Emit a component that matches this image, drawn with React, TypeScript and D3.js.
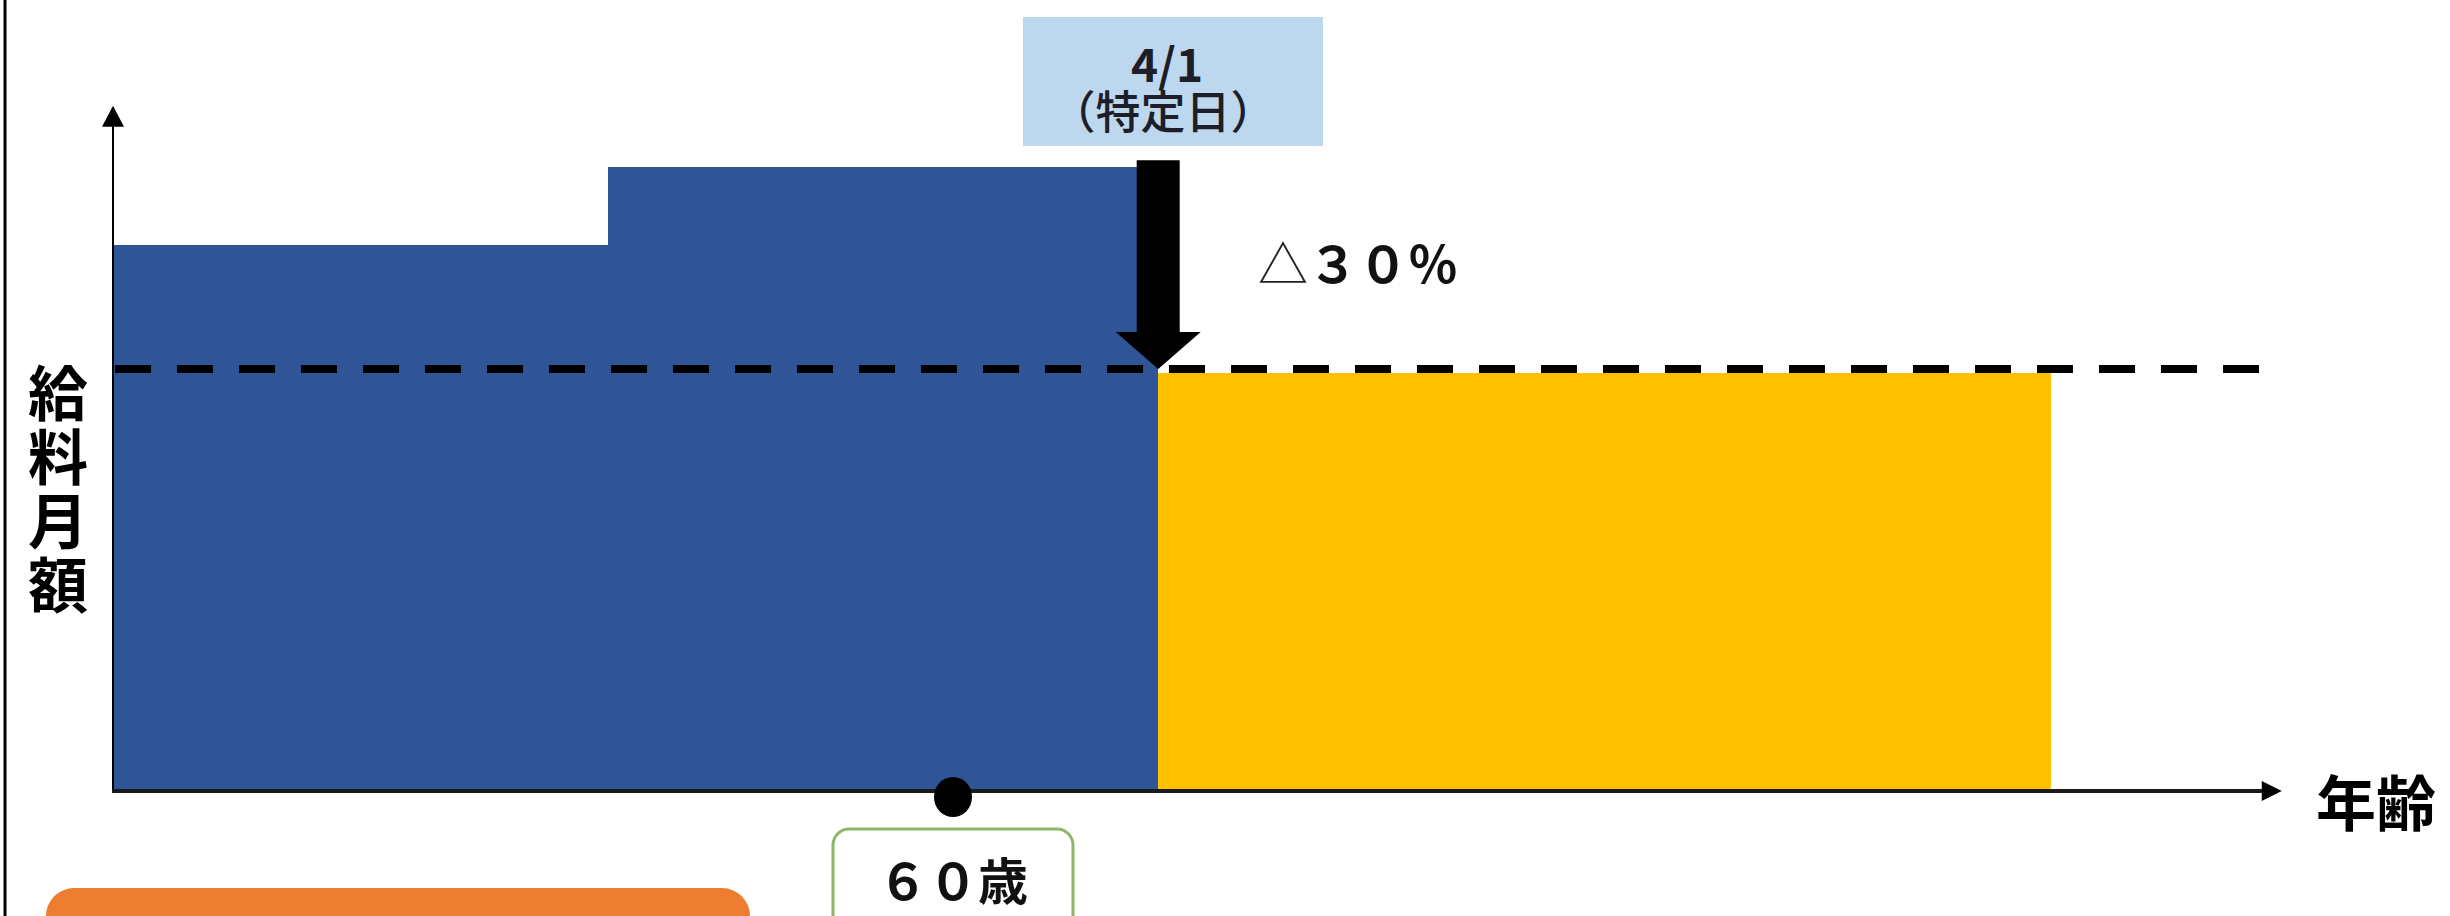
import React from "react";
import * as d3 from "d3";

// ---- data ----
const segStartAge = [55, 57.95, 61.22];
const segEndAge = [57.95, 61.22, 66.53];
const segSalary = [87.5, 100, 67];
const segColor = ["#2F5597", "#2F5597", "#FFC000"];

const axisStartAge = 55;
const axisEndAge = 67.9;
const axisTopValue = 109.8;
const refLevel = 67.7; // dashed reference line (after 30% cut)
const refEndAge = 67.81;
const specificDateAge = 61.22;
const arrowTopValue = 101.1;
const age60 = 60;

const yLabelChars = ["給", "料", "月", "額"];
const xLabel = "年齢";
const dateLabel = ["4/1", "（特定日）"];
const cutTriangle = "△";
const cutValue = "３０％";
const ageLabel = "６０歳";

const W = 2450;
const H = 916;
const FONT = "'Noto Sans CJK JP', 'Noto Sans', sans-serif";

export default function App() {
  const x = d3.scaleLinear().domain([55, 68]).range([112, 112 + 13 * 168.2]);
  const y = d3.scaleLinear().domain([0, 100]).range([792, 167]);

  const x0 = x(axisStartAge);
  const y0 = y(0);
  const xa = x(specificDateAge);
  const yTip = y(refLevel);
  const yTop = y(arrowTopValue);
  const headH = 37;
  const shaftHW = 21.5;
  const headHW = 42.5;
  const arrowPath = d3.path();
  arrowPath.moveTo(xa - shaftHW, yTop);
  arrowPath.lineTo(xa + shaftHW, yTop);
  arrowPath.lineTo(xa + shaftHW, yTip - headH);
  arrowPath.lineTo(xa + headHW, yTip - headH);
  arrowPath.lineTo(xa, yTip);
  arrowPath.lineTo(xa - headHW, yTip - headH);
  arrowPath.lineTo(xa - shaftHW, yTip - headH);
  arrowPath.closePath();

  const yAxisTop = y(axisTopValue);
  const xAxisEnd = x(axisEndAge);

  return (
    <svg
      width={W}
      height={H}
      style={{ position: "absolute", left: 0, top: 0, background: "#fff" }}
      fontFamily={FONT}
    >
      <rect x={0} y={0} width={W} height={H} fill="#fff" />
      {/* left frame line */}
      <line x1={5} y1={0} x2={5} y2={H} stroke="#000" strokeWidth={3} />

      {/* salary blocks */}
      {segSalary.map((v, i) => (
        <rect
          key={i}
          x={x(segStartAge[i])}
          y={y(v)}
          width={x(segEndAge[i]) - x(segStartAge[i]) + (i === 0 ? 1 : 0)}
          height={y0 - y(v)}
          fill={segColor[i]}
          shapeRendering="crispEdges"
        />
      ))}

      {/* y axis */}
      <line x1={x0 + 1} y1={y0} x2={x0 + 1} y2={yAxisTop + 18} stroke="#000" strokeWidth={2} />
      <path
        d={`M${x0 + 1},${yAxisTop} L${x0 + 12},${yAxisTop + 21} L${x0 - 10},${yAxisTop + 21} Z`}
        fill="#000"
      />

      {/* x axis */}
      <line x1={x0} y1={y0 - 1} x2={xAxisEnd - 18} y2={y0 - 1} stroke="#1a1a1a" strokeWidth={4} />
      <path
        d={`M${xAxisEnd},${y0 - 1} L${xAxisEnd - 20},${y0 - 11} L${xAxisEnd - 20},${y0 + 9} Z`}
        fill="#000"
      />

      {/* dashed reference line */}
      <line
        x1={x0 + 3}
        y1={yTip}
        x2={x(refEndAge)}
        y2={yTip}
        stroke="#000"
        strokeWidth={8}
        strokeDasharray="36 26"
      />

      {/* drop arrow */}
      <path d={arrowPath.toString()} fill="#000" />

      {/* date label box */}
      <rect x={1023} y={17} width={300} height={129} fill="#BDD7EE" />
      <text x={1167} y={82} textAnchor="middle" fontSize={46} fontWeight={700} fill="#1e1e28">
        {dateLabel[0]}
      </text>
      <text x={1163} y={129} textAnchor="middle" fontSize={45} fontWeight={500} fill="#1e1e28">
        {dateLabel[1]}
      </text>

      {/* -30% */}
      <text x={1258} y={283} fontSize={50} fill="#222">
        <tspan>{cutTriangle}</tspan>
        <tspan fontWeight={700} fill="#111">{cutValue}</tspan>
      </text>

      {/* y label vertical */}
      {yLabelChars.map((c, i) => (
        <text
          key={c}
          x={58}
          y={389 + i * 64}
          textAnchor="middle"
          dominantBaseline="central"
          fontSize={60}
          fontWeight={700}
          fill="#000"
        >
          {c}
        </text>
      ))}

      {/* x label */}
      <text x={2316} y={799} dominantBaseline="central" fontSize={60} fontWeight={700} fill="#000">
        {xLabel}
      </text>

      {/* 60 age dot */}
      <ellipse cx={x(age60)} cy={797} rx={19} ry={20} fill="#000" />

      {/* 60歳 box */}
      <rect x={833} y={829} width={240} height={120} rx={16} ry={16} fill="#fff" stroke="#8DB86B" strokeWidth={3} />
      <text x={x(age60)} y={900} textAnchor="middle" fontSize={50} fontWeight={700} fill="#111">
        {ageLabel}
      </text>

      {/* orange box (cut off) */}
      <rect x={46} y={888} width={704} height={80} rx={28} ry={28} fill="#ED7D31" />
    </svg>
  );
}
